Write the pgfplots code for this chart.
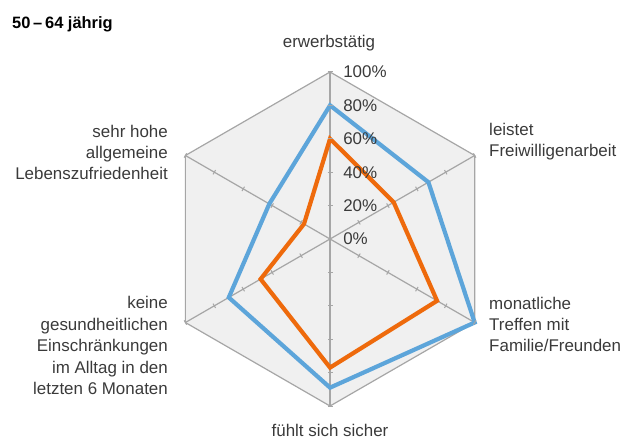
\documentclass[border=0pt]{standalone}
\usepackage{pgfplots}
\pgfplotsset{compat=1.18}
\usepackage{fontspec}
\setmainfont{Liberation Sans}

\definecolor{blueline}{HTML}{5DA5DA}
\definecolor{orangeline}{HTML}{EE6A0C}
\definecolor{gridgray}{HTML}{A6A6A6}
\definecolor{bgfill}{HTML}{F0F0F0}
\definecolor{txt}{HTML}{3A3A3A}

\tikzset{lab/.style={font=\fontsize{17}{21.5}\selectfont, inner sep=0pt, text=txt}}

\begin{document}
\begin{tikzpicture}
\begin{axis}[
  x=1.67bp, y=1.67bp,
  xmin=-197.6, xmax=176.6, ymin=-121, ymax=143.1,
  hide axis, clip=false,
]
\path (rel axis cs:0,0) rectangle (rel axis cs:1,1);

% background hexagon
\addplot[data cs=polar, fill=bgfill, draw=gridgray, line width=1.2bp]
  coordinates {(90,100) (30,100) (-30,100) (-90,100) (-150,100) (150,100)} -- cycle;

% spokes and their ticks
\pgfplotsinvokeforeach{90,30,-30,-90,-150,150}{
  \addplot[data cs=polar, draw=gridgray, line width=1.2bp] coordinates {(#1,0) (#1,100)};
  \addplot[data cs=polar, only marks, mark=|, mark size=2.5bp,
    mark options={rotate=#1, draw=gridgray, line width=1bp}]
    coordinates {(#1,20) (#1,40) (#1,60) (#1,80) (#1,100)};
}

% 50-64: series 1
\addplot[data cs=polar, draw=blueline, line width=4.2bp]
  coordinates {(90,80) (30,68) (-30,100) (-90,89) (-150,70) (150,42)} -- cycle;
% series 2
\addplot[data cs=polar, draw=orangeline, line width=4.2bp]
  coordinates {(90,60) (30,44) (-30,74) (-90,77) (-150,48) (150,18)} -- cycle;

% radial labels
\pgfplotsinvokeforeach{0,20,40,60,80,100}{
  \node[anchor=west, font=\fontsize{17}{20}\selectfont, inner sep=0pt, text=txt] at (axis cs:7.8,#1) {#1\%};
}

% category labels
\node[lab, anchor=center] at (axis cs:-0.6,117.4) {erwerbstätig};
\node[lab, anchor=west, align=left] at (axis cs:95.2,58.4) {leistet\\Freiwilligenarbeit};
\node[lab, anchor=west, align=left] at (axis cs:95.2,-51.2) {monatliche\\Treffen mit\\Familie/Freunden};
\node[lab, anchor=center] at (axis cs:0,-114.6) {fühlt sich sicher};
\node[lab, anchor=east, align=right] at (axis cs:-97,-63.8) {keine\\gesundheitlichen\\Einschränkungen\\im Alltag in den\\letzten 6 Monaten};
\node[lab, anchor=east, align=right] at (axis cs:-97,51.8) {sehr hohe\\allgemeine\\Lebenszufriedenheit};

\node[anchor=west, inner sep=0pt, font=\bfseries\fontsize{16.5}{18}\selectfont, text=black]
  at (axis cs:-190.4,128.5) {50\,–\,64 jährig};
\end{axis}
\end{tikzpicture}
\end{document}
